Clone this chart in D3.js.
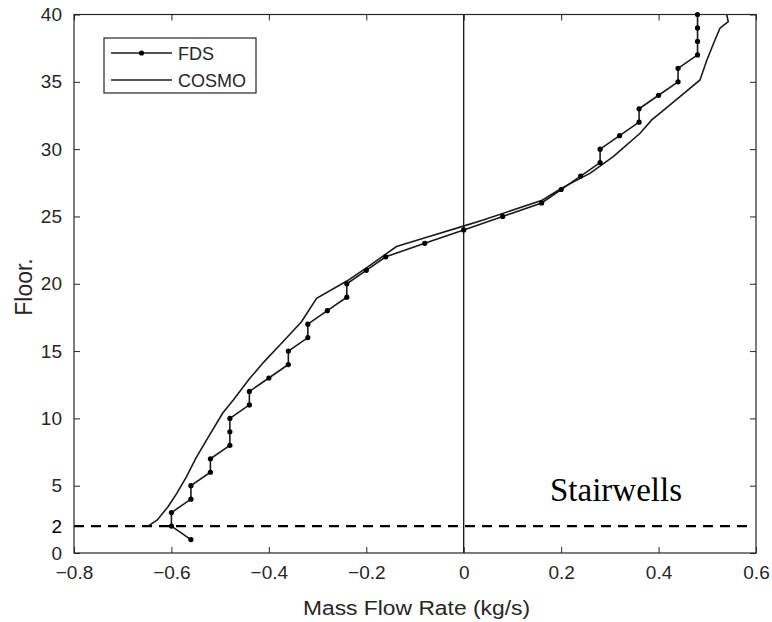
<!DOCTYPE html>
<html>
<head>
<meta charset="utf-8">
<script src="https://cdn.jsdelivr.net/npm/d3@7"></script>
<style>
  body { margin: 0; background: #fff; }
  svg { display: block; }
</style>
</head>
<body>
<svg id="chart" width="772" height="622"></svg>
<script>
// ---- data ----
const fdsFloors = [1,2,3,4,5,6,7,8,9,10,11,12,13,14,15,16,17,18,19,20,21,22,23,24,25,26,27,28,29,30,31,32,33,34,35,36,37,38,39,40];
const fdsFlow = [-0.56,-0.60,-0.60,-0.56,-0.56,-0.52,-0.52,-0.48,-0.48,-0.48,-0.44,-0.44,-0.40,-0.36,-0.36,-0.32,-0.32,-0.28,-0.24,-0.24,-0.20,-0.16,-0.08,0.00,0.08,0.16,0.20,0.24,0.28,0.28,0.32,0.36,0.36,0.40,0.44,0.44,0.48,0.48,0.48,0.48];
const cosmoFloors = [2.0,2.45,3.44,4.43,5.67,7.03,8.39,10.38,11.37,12.98,14.2,15.58,17.18,18.92,20.2,21.2,22.76,23.45,24.3,24.74,26.2,27.1,28.2,29.44,31.18,32.17,32.67,33.9,35.14,36.6,37.87,38.98,39.47,39.97];
const cosmoFlow = [-0.648,-0.629,-0.607,-0.589,-0.569,-0.55,-0.528,-0.495,-0.473,-0.439,-0.41,-0.374,-0.333,-0.302,-0.240,-0.199,-0.138,-0.076,0.001,0.04,0.161,0.201,0.259,0.307,0.362,0.386,0.403,0.444,0.485,0.499,0.513,0.526,0.543,0.54];
const xTicks = [-0.8,-0.6,-0.4,-0.2,0,0.2,0.4,0.6];
const yTicks = [0,2,5,10,15,20,25,30,35,40];
const seriesNames = ["FDS","COSMO"];
const dashedFloor = 2;
const annotation = "Stairwells";

// ---- layout ----
const svg = d3.select("#chart");
const L = 74, R = 756, T = 14.5, B = 553;
const axisColor = "#262626";
const x = d3.scaleLinear().domain([-0.8, 0.6]).range([L, R]);
const y = d3.scaleLinear().domain([0, 40]).range([B, T]);
const font = "'Liberation Sans', Arial, sans-serif";

// dashed line at floor 2
svg.append("line")
  .attr("x1", L).attr("x2", R - 4)
  .attr("y1", y(dashedFloor)).attr("y2", y(dashedFloor))
  .attr("stroke", "#000").attr("stroke-width", 2.2)
  .attr("stroke-dasharray", "10,7");

// zero vertical line
svg.append("line")
  .attr("x1", x(0)).attr("x2", x(0))
  .attr("y1", T).attr("y2", B)
  .attr("stroke", "#000").attr("stroke-width", 1.2);

// axes
const xAxisB = d3.axisBottom(x).tickValues(xTicks).tickSize(-6).tickPadding(13)
  .tickFormat(d => d === 0 ? "0" : d3.format(".1f")(d));
const xAxisT = d3.axisTop(x).tickValues(xTicks).tickSize(-6).tickFormat("");
const yAxisL = d3.axisLeft(y).tickValues(yTicks).tickSize(-6).tickPadding(12).tickFormat(d3.format("d"));
const yAxisR = d3.axisRight(y).tickValues(yTicks.filter(d => d !== 2)).tickSize(-6).tickFormat("");

function styleAxis(g) {
  g.select(".domain").remove();
  g.selectAll(".tick line").attr("stroke", axisColor).attr("stroke-width", 1);
  g.selectAll(".tick text").attr("fill", axisColor)
    .style("font-family", font).style("font-size", "19px");
}
svg.append("g").attr("transform", `translate(0,${B})`).call(xAxisB).call(styleAxis);
svg.append("g").attr("transform", `translate(0,${T})`).call(xAxisT).call(styleAxis);
const gl = svg.append("g").attr("transform", `translate(${L},0)`).call(yAxisL).call(styleAxis);
gl.selectAll(".tick").filter(d => d === 2).select("text").attr("fill", "#000");
gl.selectAll(".tick").filter(d => d === 2).select("line").remove();
svg.append("g").attr("transform", `translate(${R},0)`).call(yAxisR).call(styleAxis);

// frame
svg.append("rect").attr("x", L).attr("y", T).attr("width", R - L).attr("height", B - T)
  .attr("fill", "none").attr("stroke", axisColor).attr("stroke-width", 1.2);

// series
const fdsData = fdsFloors.map((f, i) => [fdsFlow[i], f]);
const cosmoData = cosmoFloors.map((f, i) => [cosmoFlow[i], f]);
const line = d3.line().x(d => x(d[0])).y(d => y(d[1]));

svg.append("path").attr("d", line(cosmoData))
  .attr("fill", "none").attr("stroke", "#1a1a1a").attr("stroke-width", 1.6);
svg.append("path").attr("d", line(fdsData))
  .attr("fill", "none").attr("stroke", "#1a1a1a").attr("stroke-width", 1.6);
svg.append("g").selectAll("circle").data(fdsData).join("circle")
  .attr("cx", d => x(d[0])).attr("cy", d => y(d[1])).attr("r", 2.6)
  .attr("fill", "#000");

// axis labels
svg.append("text").attr("x", 303).attr("y", 615)
  .attr("fill", axisColor)
  .attr("textLength", 227).attr("lengthAdjust", "spacingAndGlyphs")
  .style("font-family", font).style("font-size", "20px")
  .text("Mass Flow Rate (kg/s)");
svg.append("text")
  .attr("transform", `translate(32,287) rotate(-90)`)
  .attr("text-anchor", "middle").attr("fill", axisColor)
  .style("font-family", font).style("font-size", "23px")
  .text("Floor.");

// annotation
svg.append("text").attr("x", 550).attr("y", 501)
  .attr("fill", "#000")
  .style("font-family", "'Liberation Serif', 'Times New Roman', serif")
  .style("font-size", "33px")
  .text(annotation);

// legend
const lg = svg.append("g");
lg.append("rect").attr("x", 104).attr("y", 38).attr("width", 152).attr("height", 55)
  .attr("fill", "#fff").attr("stroke", axisColor).attr("stroke-width", 1.2);
seriesNames.forEach((name, i) => {
  const yy = 53 + i * 27;
  lg.append("line").attr("x1", 111).attr("x2", 172).attr("y1", yy).attr("y2", yy)
    .attr("stroke", "#1a1a1a").attr("stroke-width", 1.6);
  if (i === 0) lg.append("circle").attr("cx", 141.5).attr("cy", yy).attr("r", 2.6).attr("fill", "#000");
  lg.append("text").attr("x", 178).attr("y", yy + 6.5).attr("fill", axisColor)
    .style("font-family", font).style("font-size", "18px").text(name);
});
</script>
</body>
</html>
